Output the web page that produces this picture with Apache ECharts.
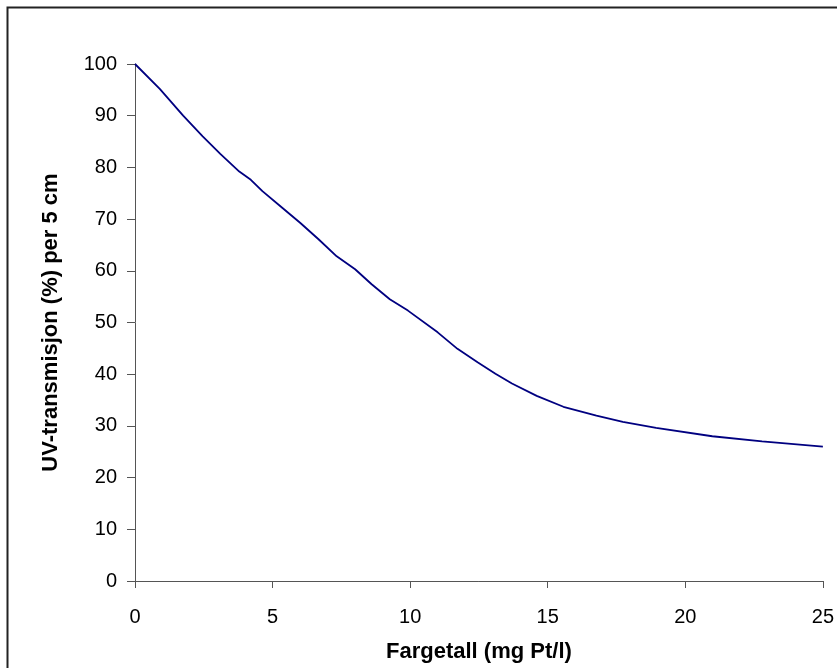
<!DOCTYPE html>
<html>
<head>
<meta charset="utf-8">
<script src="https://cdn.jsdelivr.net/npm/echarts@6/dist/echarts.min.js"></script>
<style>html,body{margin:0;padding:0;background:#fff;}#c{width:837px;height:668px;}</style>
</head>
<body>
<div id="c"></div>
<script>
const xValues = [0, 0.9, 1.75, 2.46, 3.1, 3.79, 4.21, 4.63, 5.35, 6.0, 6.67, 7.33, 8.0, 8.6, 9.26, 9.92, 11.0, 11.72, 12.45, 13.1, 13.7, 14.6, 15.57, 16.77, 17.73, 18.94, 20.98, 22.79, 25];
const yValues = [100, 95.2, 90, 86, 82.6, 79.2, 77.6, 75.4, 72.2, 69.3, 66.1, 62.8, 60.3, 57.4, 54.5, 52.3, 48.1, 44.9, 42.3, 40.1, 38.2, 35.8, 33.7, 32.0, 30.8, 29.6, 28.0, 27.0, 26.0];
const xName = 'Fargetall (mg Pt/l)';
const yName = 'UV-transmisjon (%) per 5 cm';

const chart = echarts.init(document.getElementById('c'), null, {renderer: 'canvas'});
const font = 'Liberation Sans, Arial, sans-serif';
chart.setOption({
  animation: false,
  backgroundColor: '#fff',
  graphic: [{
    type: 'rect', shape: {x: 7.5, y: 7.5, width: 840, height: 700},
    style: {fill: 'none', stroke: '#222', lineWidth: 2}
  }],
  grid: {left: 135, right: 9, top: 64, bottom: 85, containLabel: false},
  xAxis: {
    type: 'value', min: 0, max: 25, interval: 5,
    name: xName, nameLocation: 'middle', nameGap: 60,
    nameTextStyle: {fontFamily: font, fontSize: 22, fontWeight: 'bold', color: '#000'},
    axisLine: {show: true, lineStyle: {color: '#555', width: 1}},
    axisTick: {show: true, inside: false, length: 7, lineStyle: {color: '#555'}},
    axisLabel: {fontFamily: font, fontSize: 20, color: '#000', margin: 26},
    splitLine: {show: false}
  },
  yAxis: {
    type: 'value', min: 0, max: 100, interval: 10,
    name: yName, nameLocation: 'middle', nameGap: 73, nameRotate: 90,
    nameTextStyle: {fontFamily: font, fontSize: 22, fontWeight: 'bold', color: '#000'},
    axisLine: {show: true, lineStyle: {color: '#555', width: 1}},
    axisTick: {show: true, inside: false, length: 8, lineStyle: {color: '#555'}},
    axisLabel: {fontFamily: font, fontSize: 20, color: '#000', margin: 18},
    splitLine: {show: false}
  },
  series: [{
    type: 'line',
    data: xValues.map((x, i) => [x, yValues[i]]),
    showSymbol: false,
    smooth: false,
    lineStyle: {color: '#000080', width: 1.8},
    itemStyle: {color: '#000080'}
  }]
});
</script>
</body>
</html>
